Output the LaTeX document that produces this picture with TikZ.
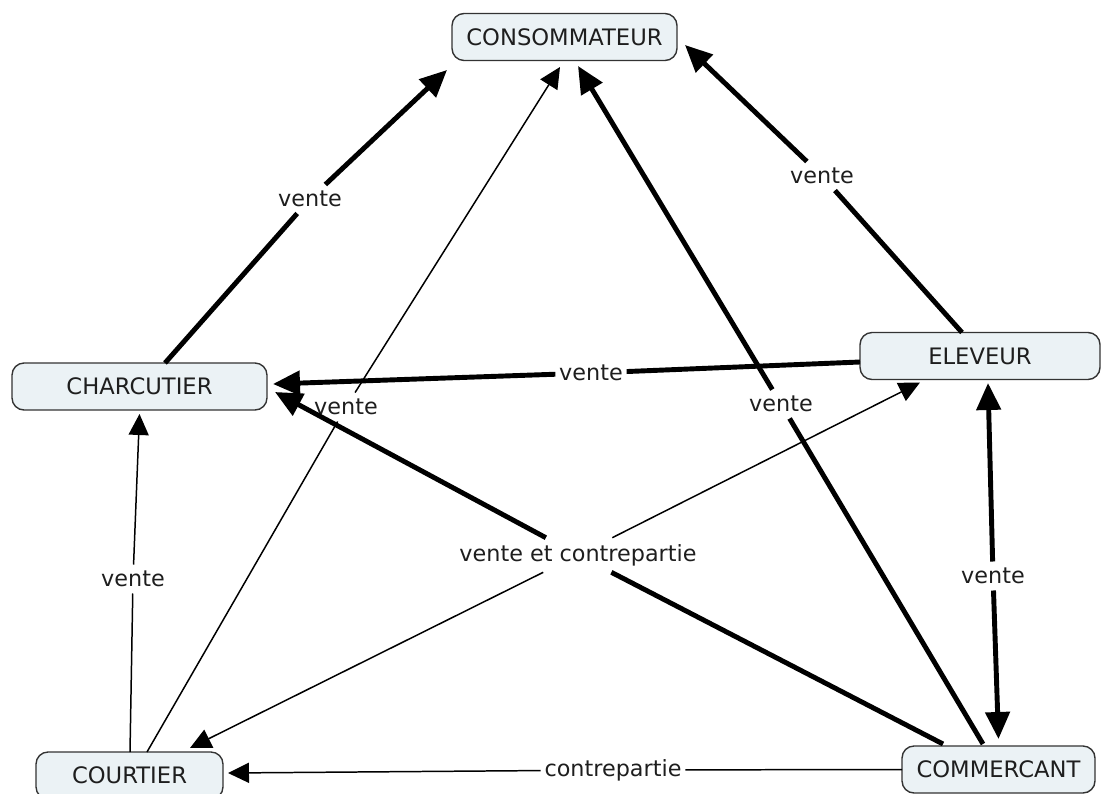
\documentclass[tikz,border=0pt]{standalone}
\usepackage{fontspec}
\setmainfont{DejaVu Sans}
\usetikzlibrary{arrows.meta, calc}
\definecolor{boxfill}{HTML}{EBF2F5}
\definecolor{boxline}{HTML}{333333}
\definecolor{ink}{HTML}{1E1E1E}
\tikzset{
	concept/.style={
		rectangle,
		rounded corners=0.24cm,
		draw=boxline, line width=0.8pt,
		fill=boxfill,
		minimum height=0.94cm,
		inner sep=0pt, outer sep=0pt,
		text=ink,
		font=\fontsize{12.9}{15}\selectfont,
	},
	phrase/.style={
		inner xsep=2pt, inner ysep=3.5pt,
		text=ink,
		font=\fontsize{12.7}{15}\selectfont,
	},
	heavy/.style={line width=2.8pt, -{Triangle[length=0.54cm,width=0.48cm]}},
	light/.style={line width=0.85pt, -{Triangle[length=0.42cm,width=0.4cm]}},
}

\begin{document}
\begin{tikzpicture}[x=0.02cm, y=-0.02cm]
        \useasboundingbox (0,0) rectangle (1105,794);
        \node[concept, minimum width=4.5cm] (A) at (564.5,37) {CONSOMMATEUR};
        \node[concept, minimum width=5.1cm] (B) at (139.5,386.5) {CHARCUTIER};
        \node[concept, minimum width=4.8cm] (C) at (980,356) {ELEVEUR};
        \node[concept, minimum width=3.74cm] (D) at (129.5,775.5) {COURTIER};
        \node[concept, minimum width=3.86cm] (E) at (998.5,769.5) {COMMERCANT};

        \node[phrase] (L1) at (310,199) {vente};
        \node[phrase] (L2) at (346,407) {vente};
        \node[phrase] (L3) at (781,404) {vente};
        \node[phrase] (L4) at (822,176) {vente};
        \node[phrase] (L5) at (591,373) {vente};
        \node[phrase] (L6) at (578,555) {vente et contrepartie};
        \node[phrase] (L7) at (133,579) {vente};
        \node[phrase] (L8) at (993,576) {vente};
        \node[phrase] (L9) at (613,770) {contrepartie};

        \path ($(B.north)+(25.5,0)$) edge[heavy,-] (L1)
        (L1) edge[heavy] ($(A.south west)+(-5,9.5)$)
        ($(D.north)+(17.5,0)$) edge[light,-] (L2)
        (L2) edge[light] ($(A.south)+(-4.5,6.5)$)
        ($(E.north)+(-15.5,-2)$) edge[heavy,-] (L3)
        (L3) edge[heavy] ($(A.south)+(13.5,5.5)$)
        ($(C.north)+(-18,0)$) edge[heavy,-] (L4)
        (L4) edge[heavy] ($(A.east)+(8,8)$)
        ($(C.west)+(0,6)$) edge[heavy,-] (L5)
        (L5) edge[heavy] ($(B.east)+(6,-2.5)$)
        ($(E.north)+(-55.5,-2)$) edge[heavy,-] (L6)
        (L6) edge[heavy] ($(B.east)+(8,5.5)$)
        (L6) edge[light] ($(C.south)+(-60,3)$)
        (L6) edge[light] ($(D.north)+(60.5,-4)$)
        ($(D.north)+(0.5,0)$) edge[light,-] (L7)
        (L7) edge[light] ($(B.south)+(0,4)$)
        (L8) edge[heavy] ($(C.south)+(8,3.5)$)
        (L8) edge[heavy] ($(E.north)+(0,-7)$)
        (E.west) edge[light,-] (L9)
        (L9) edge[light] ($(D.east)+(5,-2.5)$)
        %linking phrases cut the lines, as in the map
        ;
    \end{tikzpicture}
\end{document}
